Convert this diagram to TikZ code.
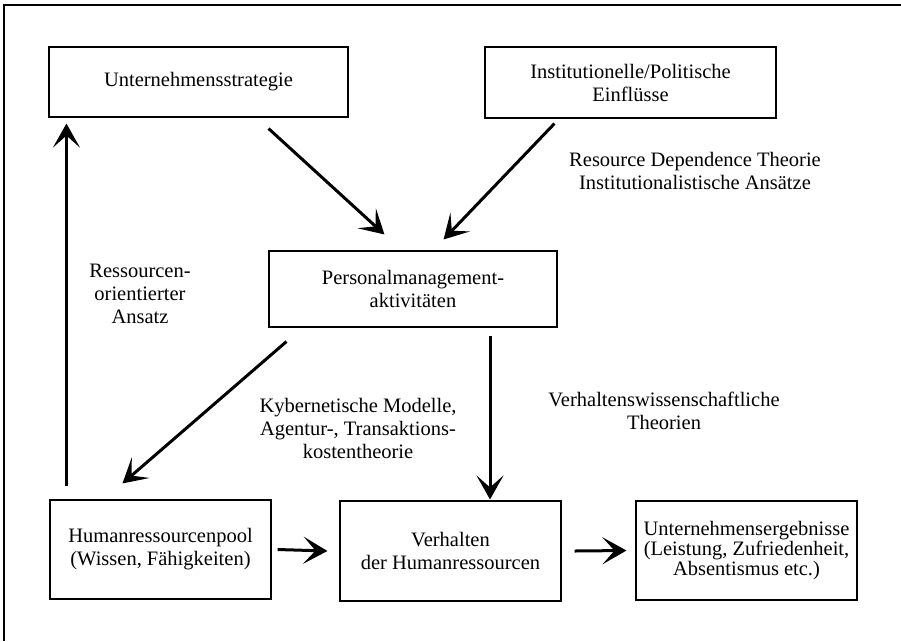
\documentclass[tikz,border=0pt]{standalone}
\usepackage{fontspec}
\setmainfont{Liberation Serif}
\usetikzlibrary{arrows.meta}
\begin{document}
\begin{tikzpicture}[x=1pt,y=-1pt,
  box/.style={draw, line width=1.1pt, minimum width=#1, align=center, inner sep=0pt, font=\fontsize{20.5}{23}\selectfont},
  lbl/.style={align=center, inner sep=0pt, font=\fontsize{20.5}{23}\selectfont},
  arr/.style={line width=3pt, -{Stealth[length=24pt,width=27pt,inset=12pt]}}
]
\useasboundingbox (0,0) rectangle (901,641);
\draw[line width=1.2pt] (4,641) -- (4,5) -- (901,5);

\node[box=299pt, minimum height=70pt] (A) at (198.5,82) {Unternehmensstrategie};
\node[box=291pt, minimum height=71pt] (B) at (630.5,82.5) {Institutionelle/Politische\\Einflüsse};
\node[box=288pt, minimum height=76pt] (C) at (413,289) {Personalmanagement-\\aktivitäten};
\node[box=221pt, minimum height=99pt] (D) at (160.5,549.5) {Humanressourcenpool\\(Wissen, Fähigkeiten)};
\node[box=221pt, minimum height=100pt] (E) at (450.5,551) {Verhalten\\der Humanressourcen};
\node[box=221pt, minimum height=99pt, font=\fontsize{20.5}{17.5}\selectfont] (F) at (746.5,550.5) {Unternehmensergebnisse\\(Leistung, Zufriedenheit,\\Absentismus etc.)};

\node[lbl] (L1) at (695,171) {Resource Dependence Theorie\\Institutionalistische Ansätze};
\node[lbl] (L2) at (140,294) {Ressourcen-\\orientierter\\Ansatz};
\node[lbl] (L3) at (358,428) {Kybernetische Modelle,\\Agentur-, Transaktions-\\kostentheorie};
\node[lbl] (L4) at (664,411) {Verhaltenswissenschaftliche\\Theorien};

\draw[arr] ([xshift=-80pt,yshift=-11pt]A.south east) -- ([xshift=116pt,yshift=16pt]C.north west);
\draw[arr] ([xshift=70pt,yshift=-5pt]B.south west) -- ([xshift=-114pt,yshift=11pt]C.north east);
\draw[arr] ([xshift=18pt,yshift=-14pt]C.south west) -- ([xshift=73pt,yshift=16pt]D.north west);
\draw[arr] ([xshift=77pt,yshift=-8pt]C.south) -- ([xshift=39.5pt,yshift=1pt]E.north);
\draw[arr] ([xshift=17pt,yshift=13pt]D.north west) -- ([xshift=18pt,yshift=-6pt]A.south west);
\draw[arr] ([xshift=6pt]D.east) -- ([xshift=-12pt]E.west);
\draw[arr] ([xshift=13pt]E.east) -- ([xshift=-9pt]F.west);
\end{tikzpicture}
\end{document}
